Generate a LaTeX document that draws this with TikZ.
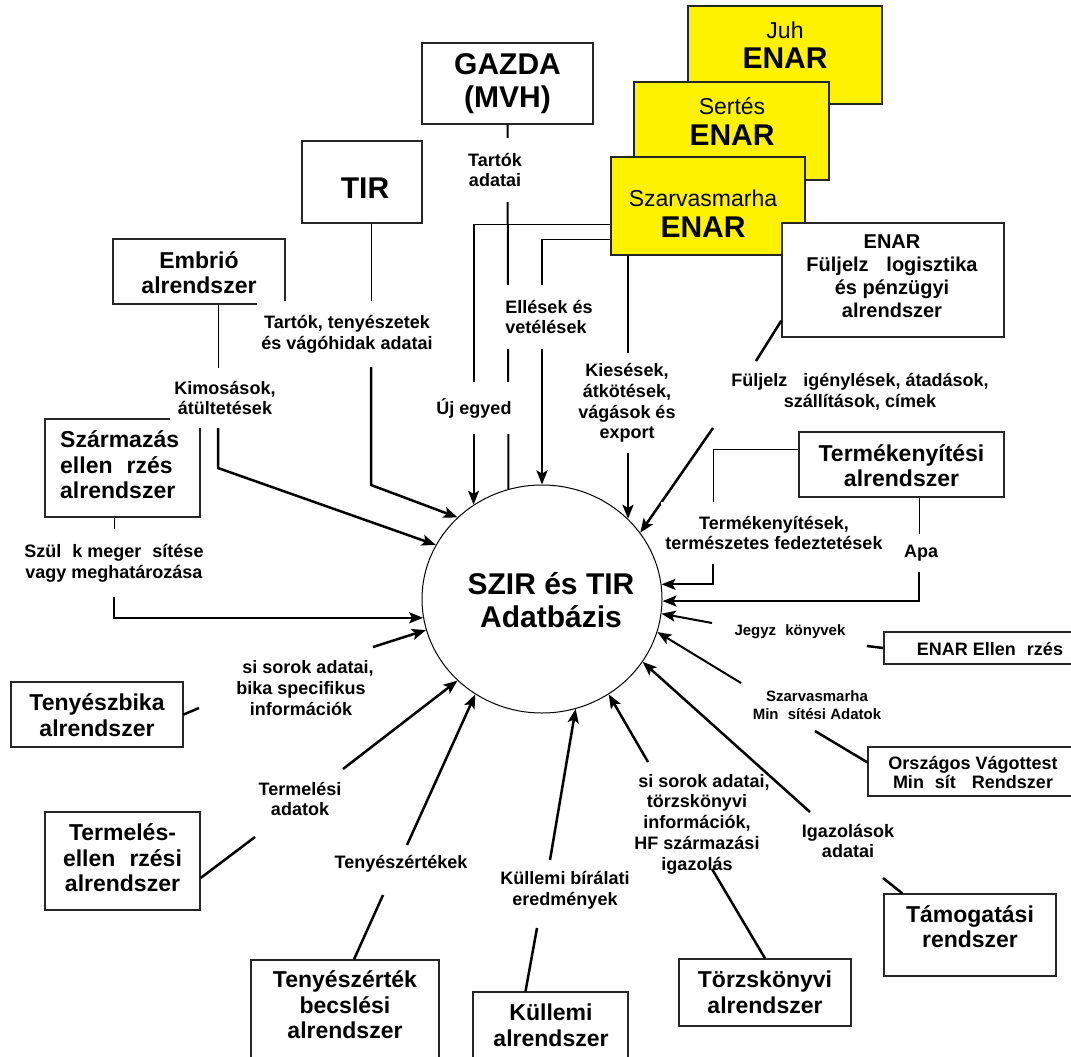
\documentclass[tikz,border=0pt]{standalone}
\usepackage{fontspec}
\setmainfont{Liberation Sans}
\usetikzlibrary{arrows.meta,shapes.geometric,calc}
\newcommand\fBig{\fontsize{30}{33}\selectfont\bfseries}
\newcommand\fBox{\fontsize{23}{25.5}\selectfont\bfseries}
\newcommand\fBoxR{\fontsize{23}{25.5}\selectfont}
\newcommand\fMed{\fontsize{20}{23}\selectfont\bfseries}
\newcommand\fLbl{\fontsize{18}{20.7}\selectfont\bfseries}
\newcommand\fSm{\fontsize{15}{17.5}\selectfont\bfseries}
\newcommand\fOrs{\fontsize{18}{19.5}\selectfont\bfseries}
\newcommand\gapo{\hspace{0.333em} }
\newcommand\gapO{\hspace*{0.778em}}
\tikzset{
  box/.style={draw=black!85, line width=1.3pt, fill=white, inner sep=0pt},
  ybox/.style={box, fill=yellow},
  bt/.style={align=center, inner sep=0pt},
  lbl/.style={font=\fLbl, align=center, fill=white, inner xsep=4pt, inner ysep=12pt},
  thinl/.style={line width=1pt},
  midl/.style={line width=2pt},
  thk/.style={line width=2.5pt},
  arr/.style={line width=2.5pt, -{Stealth[length=14pt,width=11pt,inset=3pt]}},
}
\begin{document}
\begin{tikzpicture}[x=1pt,y=-1pt]
\useasboundingbox (0,0) rectangle (1071,1057);

% ---------- boxes ----------
\node[ybox, minimum width=194pt, minimum height=98pt] (juh) at (785,55) {};
\node[bt, font=\fBoxR] (juhT1) at (785,30) {Juh};
\node[bt, font=\fBig] (juhT2) at (785,58) {ENAR};
\node[ybox, minimum width=195pt, minimum height=98pt] (sertes) at (731.5,131) {};
\node[bt, font=\fBoxR] (sertesT1) at (732,106) {Sertés};
\node[bt, font=\fBig] (sertesT2) at (732,135) {ENAR};
\node[ybox, minimum width=194pt, minimum height=98pt] (szarv) at (708,206) {};
\node[bt, font=\fBoxR] (szarvT1) at (703,198) {Szarvasmarha};
\node[bt, font=\fBig] (szarvT2) at (703,227) {ENAR};

\node[box, minimum width=222pt, minimum height=114pt] (enarful) at (893,280) {};
\node[bt, font=\fMed] (enarfulT) at (892,276) {ENAR\\Füljelz\gapo\ logisztika\\és pénzügyi\\alrendszer};

\node[box, minimum width=171pt, minimum height=81pt] (gazda) at (507.5,83.5) {};
\node[bt, font=\fBig] (gazdaT) at (507.5,83.5) {GAZDA\\(MVH)};

\node[box, minimum width=120pt, minimum height=82pt] (tir) at (362,182) {};
\node[bt, font=\fBig] (tirT) at (365,188) {TIR};

\node[box, minimum width=172pt, minimum height=65pt] (embrio) at (199,271.5) {};
\node[bt, font=\fBox] (embrioT) at (199,272.5) {Embrió\\alrendszer};

\node[box, minimum width=155pt, minimum height=98pt] (szarm) at (122.5,468) {};
\node[bt, font=\fBox, align=left, anchor=west] (szarmT) at (60,465) {Származás\\ellen\gapo rzés\\alrendszer};

\node[box, minimum width=205pt, minimum height=65pt] (termeny) at (901.5,464.5) {};
\node[bt, font=\fBox] (termenyT) at (901.5,465.5) {Termékenyítési\\alrendszer};

\node[box, minimum width=194pt, minimum height=32pt] (enarell) at (981,648) {};
\node[bt, font=\fOrs] (enarellT) at (990,649) {ENAR Ellen\gapo rzés};

\node[box, minimum width=210pt, minimum height=49pt] (orsz) at (973,771.5) {};
\node[bt, font=\fOrs] (orszT) at (973,772.5) {Országos Vágottest\\Min\gapo sít\gapo\ Rendszer};

\node[box, minimum width=172pt, minimum height=65pt] (tbika) at (97,714.5) {};
\node[bt, font=\fBox] (tbikaT) at (97,715) {Tenyészbika\\alrendszer};

\node[box, minimum width=155pt, minimum height=98pt] (termeles) at (122.5,861) {};
\node[bt, font=\fBox] (termelesT) at (122.5,858) {Termelés-\\ellen\gapo rzési\\alrendszer};

\node[box, minimum width=188pt, minimum height=115pt] (tenyert) at (345,1017.5) {};
\node[bt, font=\fBox] (tenyertT) at (345,1005) {Tenyészérték\\becslési\\alrendszer};

\node[box, minimum width=155pt, minimum height=83pt] (kull) at (550.5,1033.5) {};
\node[bt, font=\fBox] (kullT) at (551,1025.5) {Küllemi\\alrendszer};

\node[box, minimum width=172pt, minimum height=67pt] (torzs) at (765,992.5) {};
\node[bt, font=\fBox] (torzsT) at (765,992.5) {Törzskönyvi\\alrendszer};

\node[box, minimum width=172pt, minimum height=82pt] (tamog) at (970,935) {};
\node[bt, font=\fBox] (tamogT) at (970,926.5) {Támogatási\\rendszer};

% ---------- database ----------
\node[draw, ellipse, line width=1pt, minimum width=240pt, minimum height=228pt, inner sep=0pt] (db) at (542,599) {};
\node[bt, font=\fBig, text depth=0pt] (dbT) at (551,600) {SZIR és TIR\\Adatbázis};

% ---------- coordinates ----------
\coordinate (yUj) at (0,224);
\coordinate (yEl) at (0,239);
\coordinate (cUj) at (db.126 |- yUj);
\coordinate (cEl) at (db.90 |- yEl);
\coordinate (cKi) at (db.43 |- szarv.south);
\coordinate (fuA) at (756,361);
\coordinate (fuB) at (713,428);
\coordinate (teA) at (713,449);
\coordinate (teB) at (713,540);
\coordinate (apA) at (919,552);
\coordinate (jeA) at (712,623);
\coordinate (jeB) at (867,646);
\coordinate (smA) at (741,683);
\coordinate (smB) at (815,731);
\coordinate (igA) at (810,812);
\coordinate (igB) at (883,878);
\coordinate (toA) at (648,762);
\coordinate (toB) at (712,869);
\coordinate (kuA) at (550,860);
\coordinate (kuB) at (537,928);
\coordinate (tyA) at (407,845);
\coordinate (tyB) at (383,895);
\coordinate (tmA) at (343,769);
\coordinate (tmB) at (255,837);
\coordinate (biA) at (373,647);
\coordinate (biB) at (199,708);
\coordinate (szA) at (114,560);
\coordinate (emA) at (218,395);
\coordinate (emB) at (218,468);
\coordinate (tiA) at (371,333);
\coordinate (tiB) at (371,485);

% ---------- connectors under labels ----------
\draw[midl] (gazda.south) -- (db.107);
\draw[thinl] (szarv.west |- yUj) -- (cUj);
\draw[arr, line width=2pt] (cUj) -- (db.126);
\draw[thinl] (szarv.west |- yEl) -- (cEl);
\draw[arr] (cEl) -- (db.90);
\draw[arr] (cKi) -- (db.43);
\draw[thk] ($(enarful.south west)+(0,-17)$) -- (fuA);
\draw[arr] (fuB) -- (db.34);
\draw[thinl] (termeny.west |- teA) -- (teA) -- (teB);
\draw[arr, line width=2pt] (teB) |- (db.7.7);
\draw[thinl] (termeny.south -| apA) -- (apA);
\draw[arr, line width=2pt] (apA) |- (db.-1.5);
\draw[arr, line width=2pt] (jeA) -- (db.-7.4);
\draw[thk] (jeB) -- (enarell.west);
\draw[arr, line width=2pt] (smA) -- (db.-16.6);
\draw[thk] (smB) -- ($(orsz.north west)+(0,16)$);
\draw[arr] (toA) -- (db.-55.3);
\draw[arr] (kuA) -- (db.-73.9);
\draw[thk] (kuB) -- ($(kull.north)+(-25,0)$);
\draw[arr] (tyA) -- (db.-125.5);
\draw[thk] (tyB) -- ($(tenyert.north)+(9,0)$);
\draw[arr] (tmA) -- (db.-136);
\draw[thk] (tmB) -- ($(termeles.east)+(0,17)$);
\draw[arr] (biA) -- (db.195.8);
\draw[thk] (tbika.east) -- (biB);
\draw[thinl] (szarm.south -| szA) -- (szA);
\draw[arr] (szA) |- (db.189.1);
\draw[thinl] (embrio.south -| emA) -- (emA);
\draw[arr] (emA) -- (emB) -- (db.153.2);
\draw[thinl] (tir.south -| tiA) -- (tiA);
\draw[arr] (tiA) -- (tiB) -- (db.136.7);

% ---------- labels ----------
\node[lbl, inner ysep=15pt] (lGz) at (495,170) {Tartók\\adatai};
\node[lbl, inner ysep=14pt] (lTIR) at (347,334) {Tartók, tenyészetek\\és vágóhidak adatai};
\node[lbl, inner ysep=13pt] (lEmb) at (225,398) {Kimosások,\\átültetések};
\node[lbl, inner ysep=15pt] (lSz) at (114,563) {Szül\gapo k meger\gapo sítése\\vagy meghatározása};
\node[lbl, inner ysep=16pt] (lUj) at (474,408) {Új egyed};
\node[lbl, align=left, inner ysep=15pt] (lEl) at (549,317) {Ellések és\\vetélések};
\node[lbl, inner ysep=10pt] (lKi) at (627,403) {Kiesések,\\átkötések,\\vágások és\\export};
\node[lbl, inner ysep=8pt] (lFul) at (860,392) {Füljelz\gapo\ igénylések, átadások,\\szállítások, címek};
\node[lbl, inner ysep=14pt] (lTe) at (774,533) {Termékenyítések,\\természetes fedeztetések};
\node[lbl, inner ysep=11pt] (lApa) at (921,553) {Apa};
\node[lbl, font=\fSm, inner ysep=6pt] (lJe) at (790,632) {Jegyz\gapo könyvek};
\node[lbl, font=\fSm, inner ysep=6pt] (lSM) at (817,705) {Szarvasmarha\\Min\gapo sítési Adatok};
\node[lbl, inner ysep=8pt] (lIg) at (848,841) {Igazolások\\adatai};
\node[lbl, inner ysep=4pt] (lTo) at (697,824) {\gapO si sorok adatai,\\törzskönyvi\\információk,\\HF származási\\igazolás};
\node[lbl, inner ysep=8pt] (lKu) at (565,890) {Küllemi bírálati\\eredmények};
\node[lbl, inner ysep=8pt] (lTy) at (401,864) {Tenyészértékek};
\node[lbl, inner ysep=8pt] (lTm) at (300,799) {Termelési\\adatok};
\node[lbl, inner ysep=6pt] (lBi) at (301,688) {\gapO si sorok adatai,\\bika specifikus\\információk};

% ---------- connectors over labels ----------
\draw[arr] (igA) -- (db.-32.9);
\draw[thk] (igB) -- ($(tamog.north west)+(19,0)$);
\draw[thk] (torzs.north) -- (toB);
\end{tikzpicture}
\end{document}
